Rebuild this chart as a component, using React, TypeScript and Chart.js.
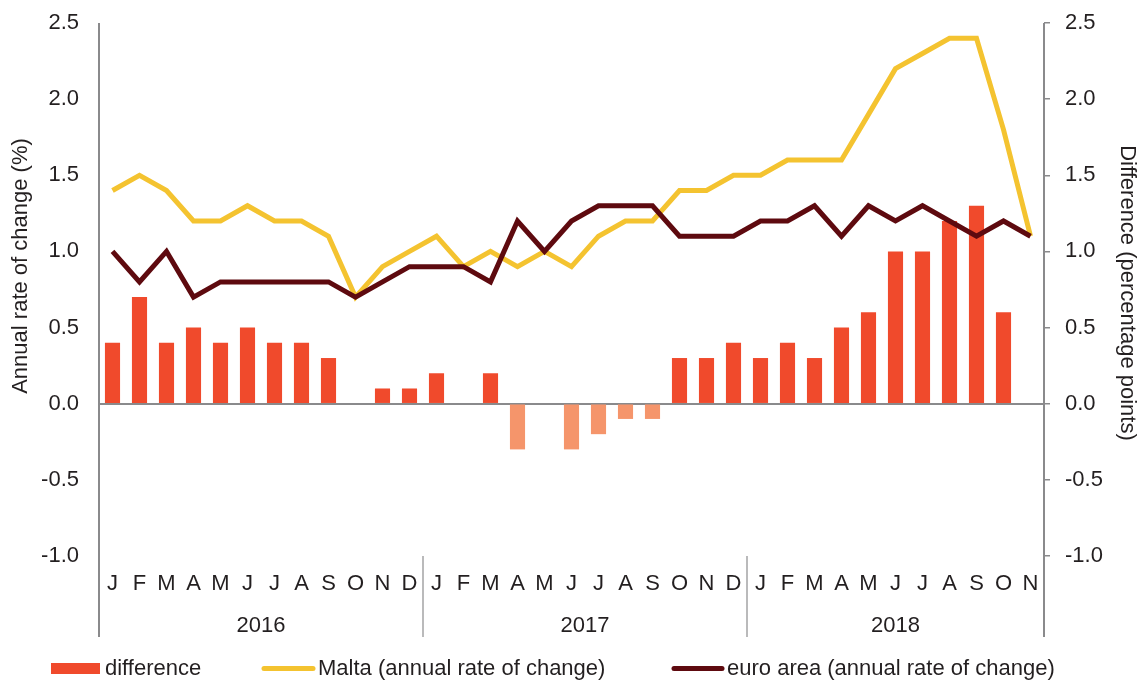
import React, { useEffect, useRef } from "react";
import { Chart, registerables } from "chart.js";

Chart.register(...registerables);

const months = [
  "J", "F", "M", "A", "M", "J", "J", "A", "S", "O", "N", "D",
  "J", "F", "M", "A", "M", "J", "J", "A", "S", "O", "N", "D",
  "J", "F", "M", "A", "M", "J", "J", "A", "S", "O", "N",
];
const years = ["2016", "2017", "2018"];
const yearStarts = [0, 12, 24];

const difference = [
  0.4, 0.7, 0.4, 0.5, 0.4, 0.5, 0.4, 0.4, 0.3, 0.0, 0.1, 0.1,
  0.2, 0.0, 0.2, -0.3, 0.0, -0.3, -0.2, -0.1, -0.1, 0.3, 0.3, 0.4,
  0.3, 0.4, 0.3, 0.5, 0.6, 1.0, 1.0, 1.2, 1.3, 0.6, 0.0,
];
const malta = [
  1.4, 1.5, 1.4, 1.2, 1.2, 1.3, 1.2, 1.2, 1.1, 0.7, 0.9, 1.0,
  1.1, 0.9, 1.0, 0.9, 1.0, 0.9, 1.1, 1.2, 1.2, 1.4, 1.4, 1.5,
  1.5, 1.6, 1.6, 1.6, 1.9, 2.2, 2.3, 2.4, 2.4, 1.8, 1.1,
];
const euroArea = [
  1.0, 0.8, 1.0, 0.7, 0.8, 0.8, 0.8, 0.8, 0.8, 0.7, 0.8, 0.9,
  0.9, 0.9, 0.8, 1.2, 1.0, 1.2, 1.3, 1.3, 1.3, 1.1, 1.1, 1.1,
  1.2, 1.2, 1.3, 1.1, 1.3, 1.2, 1.3, 1.2, 1.1, 1.2, 1.1,
];

const FONT = "'Liberation Sans', Arial, Helvetica, sans-serif";
const TEXT = "#231f20";
const AXIS = "#8a8a8c";
const RED = "#f04a2c";
const RED_NEG = "#f5956b";
const YELLOW = "#f4c330";
const MAROON = "#5e0a0f";

const overlay = {
  id: "overlay",
  afterDraw(chart: any) {
    const { ctx, chartArea, scales } = chart;
    const x = scales.x;
    const bottom = 637;
    ctx.save();
    // axis lines
    ctx.strokeStyle = AXIS;
    ctx.lineWidth = 2;
    ctx.beginPath();
    ctx.moveTo(chartArea.left, chartArea.top);
    ctx.lineTo(chartArea.left, bottom);
    ctx.moveTo(chartArea.right, chartArea.top);
    ctx.lineTo(chartArea.right, bottom);
    ctx.stroke();
    // year separators
    const bounds: number[] = [chartArea.left];
    ctx.strokeStyle = "#a3a3a5";
    ctx.lineWidth = 1.5;
    for (let i = 1; i < yearStarts.length; i++) {
      const sx = (x.getPixelForValue(yearStarts[i] - 1) + x.getPixelForValue(yearStarts[i])) / 2;
      bounds.push(sx);
      ctx.beginPath();
      ctx.moveTo(sx, chartArea.bottom);
      ctx.lineTo(sx, bottom);
      ctx.stroke();
    }
    bounds.push(chartArea.right);
    // year labels
    ctx.fillStyle = TEXT;
    ctx.font = `22px ${FONT}`;
    ctx.textAlign = "center";
    ctx.textBaseline = "middle";
    years.forEach((yl, i) => {
      ctx.fillText(yl, (bounds[i] + bounds[i + 1]) / 2, 626);
    });
    // axis titles
    ctx.save();
    ctx.translate(21, 266);
    ctx.rotate(-Math.PI / 2);
    ctx.fillText("Annual rate of change (%)", 0, 0);
    ctx.restore();
    ctx.save();
    ctx.translate(1127, 293);
    ctx.rotate(Math.PI / 2);
    ctx.fillText("Difference (percentage points)", 0, 0);
    ctx.restore();
    // legend
    const ly = 668.5;
    ctx.textAlign = "left";
    ctx.fillStyle = RED;
    ctx.fillRect(51, 663, 49, 11);
    ctx.fillStyle = TEXT;
    ctx.fillText("difference", 105, ly);
    ctx.lineCap = "round";
    ctx.lineWidth = 5;
    ctx.strokeStyle = YELLOW;
    ctx.beginPath();
    ctx.moveTo(264, ly);
    ctx.lineTo(313, ly);
    ctx.stroke();
    ctx.fillText("Malta (annual rate of change)", 318, ly);
    ctx.strokeStyle = MAROON;
    ctx.beginPath();
    ctx.moveTo(674, ly);
    ctx.lineTo(722, ly);
    ctx.stroke();
    ctx.fillText("euro area (annual rate of change)", 727, ly);
    ctx.restore();
  },
};

export default function App() {
  const ref = useRef<HTMLCanvasElement>(null);
  useEffect(() => {
    if (!ref.current) return;
    const chart = new Chart(ref.current, {
      type: "bar",
      data: {
        labels: months,
        datasets: [
          {
            type: "line",
            label: "euro area (annual rate of change)",
            data: euroArea,
            yAxisID: "y",
            borderColor: MAROON,
            borderWidth: 5,
            pointRadius: 0,
            tension: 0,
            order: 1,
          },
          {
            type: "line",
            label: "Malta (annual rate of change)",
            data: malta,
            yAxisID: "y",
            borderColor: YELLOW,
            borderWidth: 5,
            pointRadius: 0,
            tension: 0,
            order: 2,
          },
          {
            type: "bar",
            label: "difference",
            data: difference,
            yAxisID: "y1",
            backgroundColor: difference.map((v) => (v < 0 ? RED_NEG : RED)),
            barPercentage: 0.56,
            categoryPercentage: 1,
            order: 3,
          },
        ] as any,
      },
      options: {
        animation: false,
        responsive: false,
        layout: { padding: { top: 23, left: 0, right: 0, bottom: 0 } },
        plugins: { legend: { display: false }, tooltip: { enabled: false } },
        scales: {
          x: {
            offset: true,
            grid: { display: false },
            border: { display: false },
            ticks: {
              color: TEXT,
              font: { family: FONT, size: 22 },
              padding: 7,
              autoSkip: false,
              maxRotation: 0,
            },
            afterFit: (s: any) => {
              s.height = 126;
              s.paddingLeft = 0;
              s.paddingRight = 0;
            },
          },
          y: {
            position: "left",
            min: -1,
            max: 2.5,
            border: { display: false },
            grid: {
              drawTicks: false,
              lineWidth: 2,
              color: (c: any) => (c.tick && c.tick.value === 0 ? AXIS : "rgba(0,0,0,0)"),
            },
            ticks: {
              stepSize: 0.5,
              color: TEXT,
              font: { family: FONT, size: 22 },
              padding: 20,
              callback: (v: any) => Number(v).toFixed(1),
            },
            afterFit: (s: any) => {
              s.width = 99;
              s.paddingTop = 0;
              s.paddingBottom = 0;
            },
          },
          y1: {
            position: "right",
            min: -1,
            max: 2.5,
            border: { display: false },
            grid: {
              drawOnChartArea: false,
              drawTicks: true,
              tickLength: 6,
              lineWidth: 1.5,
              color: AXIS,
            },
            ticks: {
              stepSize: 0.5,
              color: TEXT,
              font: { family: FONT, size: 22 },
              padding: 15,
              callback: (v: any) => Number(v).toFixed(1),
            },
            afterFit: (s: any) => {
              s.width = 97;
              s.paddingTop = 0;
              s.paddingBottom = 0;
            },
          },
        },
      } as any,
      plugins: [overlay],
    });
    return () => chart.destroy();
  }, []);
  return (
    <div style={{ position: "absolute", left: 0, top: 0, width: 1141, height: 682, background: "#fff" }}>
      <canvas ref={ref} width={1141} height={682} style={{ width: 1141, height: 682 }} />
    </div>
  );
}
